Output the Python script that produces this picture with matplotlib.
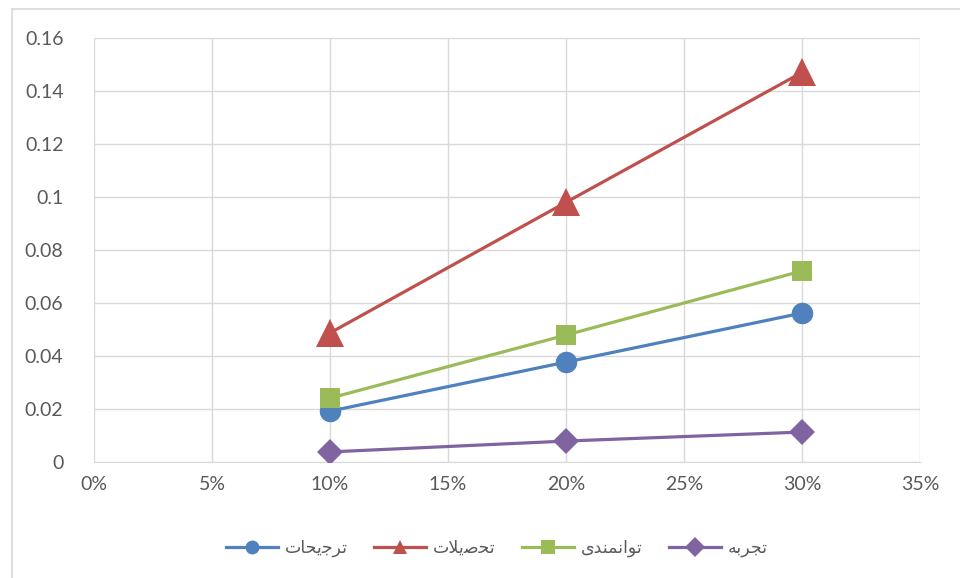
import matplotlib
matplotlib.use("Agg")
import matplotlib.pyplot as plt
from matplotlib.lines import Line2D

# Data
x_vals = [0.10, 0.20, 0.30]
tarjihat = [0.0192, 0.0377, 0.0562]
tahsilat = [0.0487, 0.0980, 0.1470]
tavanmandi = [0.0241, 0.0479, 0.0721]
tajrobe = [0.0038, 0.0079, 0.0113]
x_ticks = [0, 0.05, 0.10, 0.15, 0.20, 0.25, 0.30, 0.35]
x_tick_labels = ["0%", "5%", "10%", "15%", "20%", "25%", "30%", "35%"]
y_ticks = [0, 0.02, 0.04, 0.06, 0.08, 0.10, 0.12, 0.14, 0.16]
y_tick_labels = ["0", "0.02", "0.04", "0.06", "0.08", "0.1", "0.12", "0.14", "0.16"]

# Pre-shaped Persian labels (visual order, presentation forms)
lbl_tarjihat = "\uFE95\uFE8E\uFEA4\uFBFE\uFE9F\uFEAE\uFE97"
lbl_tahsilat = "\uFE95\uFEFC\uFBFE\uFEBB\uFEA4\uFE97"
lbl_tavanmandi = "\uFBFC\uFEAA\uFEE8\uFEE4\uFEE7\uFE8D\uFEEE\uFE97"
lbl_tajrobe = "\uFEEA\uFE91\uFEAE\uFEA0\uFE97"

plt.rcParams['font.family'] = ['Lato', 'DejaVu Sans']

fig = plt.figure(figsize=(9.6, 5.78), dpi=100)
ax = fig.add_axes([94/960, 1-462/578, (920-94)/960, (462-38)/578])

series = [
    (tarjihat, "#4F81BD", "o", 15.5, lbl_tarjihat),
    (tahsilat, "#C0504D", "^", 20, lbl_tahsilat),
    (tavanmandi, "#9BBB59", "s", 15, lbl_tavanmandi),
    (tajrobe, "#8064A2", "D", 13, lbl_tajrobe),
]
handles = []
for vals, col, mk, ms, lbl in series:
    ax.plot(x_vals, vals, color=col, lw=2.3, marker=mk, markersize=ms,
            markeredgewidth=0, zorder=3)
    handles.append(Line2D([], [], color=col, lw=2.3, marker=mk,
                          markersize=10, markeredgewidth=0, label=lbl))

ax.set_xlim(0, 0.35)
ax.set_ylim(0, 0.16)
ax.set_xticks(x_ticks)
ax.set_xticklabels(x_tick_labels)
ax.set_yticks(y_ticks)
ax.set_yticklabels(y_tick_labels)
ax.grid(True, color="#D9D9D9", lw=1)
ax.set_axisbelow(True)
for s in ["top", "right", "left"]:
    ax.spines[s].set_visible(False)
ax.spines["bottom"].set_color("#D9D9D9")
ax.tick_params(axis="both", length=0, labelsize=14, colors="#595959")
ax.tick_params(axis="y", pad=22)
ax.tick_params(axis="x", pad=10)

leg = fig.legend(handles=handles, loc="center", bbox_to_anchor=(497/960, 1-548/578),
                 ncol=4, frameon=False, handlelength=3.0, columnspacing=1.5,
                 handletextpad=0.4,
                 prop={"family": ["DejaVu Sans"], "size": 12.5})
for t in leg.get_texts():
    t.set_color("#595959")

# Chart border (left and top visible)
fig.add_artist(Line2D([12/960, 12/960], [0, 1-9/578], color="#D9D9D9", lw=1.2,
                      transform=fig.transFigure))
fig.add_artist(Line2D([12/960, 1], [1-9/578, 1-9/578], color="#D9D9D9", lw=1.2,
                      transform=fig.transFigure))

fig.savefig("out.png", dpi=100)
